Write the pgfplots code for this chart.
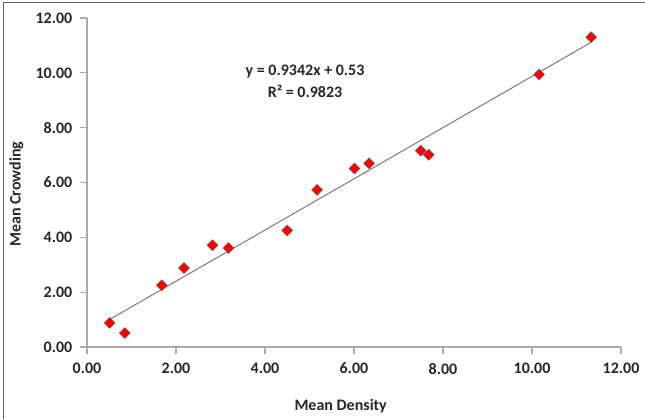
\documentclass[border=0pt]{standalone}
\usepackage{pgfplots}
\pgfplotsset{compat=1.18}
\usepackage{fontspec}
\setmainfont{Carlito}
\definecolor{axgray}{RGB}{170,170,170}
\definecolor{trend}{RGB}{128,128,128}
\definecolor{frame}{RGB}{100,100,100}
\begin{document}
\begin{tikzpicture}[x=0.75pt,y=0.75pt]
\useasboundingbox (0,0) rectangle (645,419);
\draw[frame, line width=1.1pt] (3.5,0) -- (3.5,416.5) -- (645,416.5);
\begin{axis}[
  at={(65.25pt,54pt)}, anchor=origin,
  scale only axis,
  width=400.5pt, height=246.75pt,
  xmin=0, xmax=12, ymin=0, ymax=12,
  xtick={0,2,...,12}, ytick={0,2,...,12},
  axis x line*=bottom, axis y line*=left,
  axis line style={axgray, line width=0.9pt},
  every tick/.style={axgray, line width=0.9pt},
  tick align=outside, major tick length=5.5pt,
  /pgf/number format/.cd, fixed, zerofill, precision=2, assume math mode=true,
  /pgfplots/.cd,
  tick label style={font=\fontsize{12}{14}\selectfont\bfseries, text=black!85},
  xticklabel style={yshift=-3pt},
  yticklabel style={xshift=-2pt},
  xlabel={Mean Density}, ylabel={Mean Crowding},
  label style={font=\fontsize{12}{14}\selectfont\bfseries, text=black!85},
  xlabel style={at={(axis description cs:0.475,0)}, anchor=center, yshift=-44pt},
  ylabel style={at={(axis description cs:0,0.464)}, anchor=center, yshift=53pt},
  clip=false,
]
\addplot[trend, line width=0.8pt] coordinates {(0.51,1.006) (11.33,11.114)};
\addplot[only marks, mark=square*, mark size=2.9pt, mark options={rotate=45, fill=red, draw=black!60, line width=0.4pt}] coordinates {
(0.51,0.88) (0.85,0.51) (1.68,2.25) (2.18,2.88) (2.82,3.71) (3.18,3.61)
(4.50,4.25) (5.17,5.73) (6.01,6.51) (6.34,6.70) (7.50,7.16) (7.68,7.01)
(10.16,9.94) (11.33,11.30)};
\node[font=\fontsize{12}{14}\selectfont\bfseries, text=black!85] at (axis cs:4.90,10.05) {y = 0.9342x + 0.53};
\node[font=\fontsize{12}{14}\selectfont\bfseries, text=black!85] at (axis cs:4.90,9.33) {R² = 0.9823};
\end{axis}
\end{tikzpicture}
\end{document}
